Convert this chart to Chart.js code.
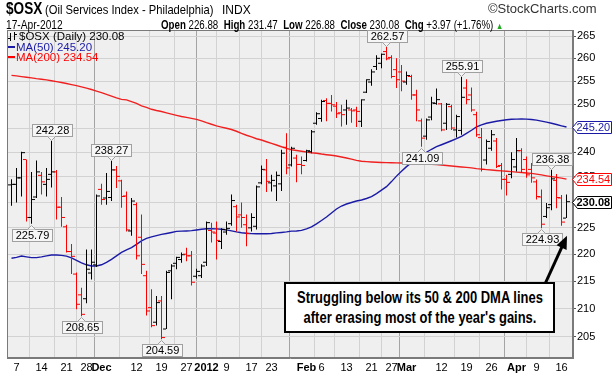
<!DOCTYPE html>
<html>
<head>
<meta charset="utf-8">
<title>$OSX daily</title>
<script src="https://cdn.jsdelivr.net/npm/chart.js@4.4.1/dist/chart.umd.min.js"></script>
<style>
  body { margin:0; background:#fff; }
  #box { position:relative; width:614px; height:378px; overflow:hidden; font-family:"Liberation Sans", Arial, sans-serif; }
  #c { position:absolute; left:0; top:0; }
  .t { position:absolute; white-space:nowrap; line-height:1; color:#000; transform-origin:0 0; }
  .lg { font-size:11.5px; line-height:11px; }
  .dash { display:inline-block; width:7px; height:2px; vertical-align:3px; margin-right:1px; }
  #note { position:absolute; left:284px; top:282px; width:267px; height:47px;
          border:2px solid #000; background:#fff; }
  #note div { position:absolute; left:50%; transform:translateX(-50%) scaleX(.81);
              font-weight:bold; font-size:16px; line-height:20px; white-space:nowrap; }
</style>
</head>
<body>
<div id="box">
  <canvas id="c" width="614" height="378"></canvas>

  <div class="t" style="left:6px;top:1px;font-weight:bold;font-size:16px;transform:scaleX(.85)">$OSX</div>
  <div class="t" style="left:45px;top:3px;font-size:13px;transform:scaleX(.86)">(Oil Services Index - Philadelphia)</div>
  <div class="t" style="left:222px;top:4px;font-size:12px">INDX</div>
  <div class="t" style="left:488px;top:2px;font-size:13px;color:#333">&copy;StockCharts.com</div>
  <div class="t" style="left:6px;top:19px;font-size:12px;transform:scaleX(.85)">17-Apr-2012</div>
  <div class="t" style="left:161px;top:19px;font-size:12px;transform:scaleX(.81)"><b>Open</b> 226.88 &nbsp;<b>High</b> 231.47 &nbsp;<b>Low</b> 226.88 &nbsp;<b>Close</b> 230.08 &nbsp;<b>Chg</b> +3.97 (+1.76%) <span style="color:#22aa22;font-size:9px">&#9650;</span></div>

  <div class="t lg" style="left:19px;top:31px">$OSX (Daily) 230.08</div>
  <div class="t lg" style="left:8px;top:41.5px;color:#1a1aa6"><span class="dash" style="background:#1a1aa6"></span>MA(50) 245.20</div>
  <div class="t lg" style="left:8px;top:52px;color:#ff0000"><span class="dash" style="background:#ff0000"></span>MA(200) 234.54</div>

  <div id="note"><div style="top:4px">Struggling below its 50 &amp; 200 DMA lines</div><div style="top:24px">after erasing most of the year's gains.</div></div>
</div>

<script>
// trading days shown, Nov 4 2011 .. Apr 17 2012
const dates = [
 '2011-11-04','2011-11-07','2011-11-08','2011-11-09','2011-11-10','2011-11-11','2011-11-14','2011-11-15','2011-11-16','2011-11-17',
 '2011-11-18','2011-11-21','2011-11-22','2011-11-23','2011-11-25','2011-11-28','2011-11-29','2011-11-30','2011-12-01','2011-12-02',
 '2011-12-05','2011-12-06','2011-12-07','2011-12-08','2011-12-09','2011-12-12','2011-12-13','2011-12-14','2011-12-15','2011-12-16',
 '2011-12-19','2011-12-20','2011-12-21','2011-12-22','2011-12-23','2011-12-27','2011-12-28','2011-12-29','2011-12-30','2012-01-03',
 '2012-01-04','2012-01-05','2012-01-06','2012-01-09','2012-01-10','2012-01-11','2012-01-12','2012-01-13','2012-01-17','2012-01-18',
 '2012-01-19','2012-01-20','2012-01-23','2012-01-24','2012-01-25','2012-01-26','2012-01-27','2012-01-30','2012-01-31','2012-02-01',
 '2012-02-02','2012-02-03','2012-02-06','2012-02-07','2012-02-08','2012-02-09','2012-02-10','2012-02-13','2012-02-14','2012-02-15',
 '2012-02-16','2012-02-17','2012-02-21','2012-02-22','2012-02-23','2012-02-24','2012-02-27','2012-02-28','2012-02-29','2012-03-01',
 '2012-03-02','2012-03-05','2012-03-06','2012-03-07','2012-03-08','2012-03-09','2012-03-12','2012-03-13','2012-03-14','2012-03-15',
 '2012-03-16','2012-03-19','2012-03-20','2012-03-21','2012-03-22','2012-03-23','2012-03-26','2012-03-27','2012-03-28','2012-03-29',
 '2012-03-30','2012-04-02','2012-04-03','2012-04-04','2012-04-05','2012-04-09','2012-04-10','2012-04-11','2012-04-12','2012-04-13',
 '2012-04-16','2012-04-17'];

const opens = [
 233.4,233.5,234.8,238.5,227.0,231.0,235.3,233.5,235.5,236.0, 229.0,225.2,220.5,216.3,212.5,211.8,216.5,218.0,232.5,230.8,
 230.9,236.4,234.2,231.2,224.4,229.5,223.2,216.0,210.2,207.6, 211.4,206.4,216.9,218.3,219.0,220.0,219.7,215.9,216.0,218.5,
 224.5,224.0,222.4,224.2,225.8,229.1,227.5,225.6,225.0,225.3, 233.8,236.4,233.8,233.2,233.6,241.0,237.4,238.8,237.5,238.3,
 240.1,246.0,247.0,250.8,250.2,249.6,248.2,248.8,248.8,248.8, 246.4,252.6,254.8,258.2,258.9,261.5,260.2,257.5,257.0,254.8,
 256.0,252.0,246.5,243.3,247.3,250.2,250.1,246.0,249.5,244.6, 244.5,253.5,252.0,247.8,243.0,238.4,240.8,242.3,237.3,234.5,
 235.5,237.0,240.3,238.5,236.5,234.0,231.0,227.2,229.5,234.3, 230.8,226.88];
const highs = [
 234.5,236.8,240.1,238.5,236.0,238.3,236.0,236.8,242.28,236.4, 231.0,225.6,221.9,216.6,213.8,220.9,220.9,231.5,233.6,235.8,
 238.27,237.2,234.4,232.1,230.8,229.9,227.6,216.9,213.5,212.3, 212.3,216.9,218.1,219.5,220.3,221.2,220.6,217.3,218.1,226.2,
 226.0,226.2,224.9,226.2,231.5,229.5,229.9,227.6,227.8,233.3, 237.3,238.6,235.4,236.1,240.5,243.9,241.1,239.5,239.1,240.5,
 244.6,248.3,251.0,251.3,252.0,250.5,249.9,251.0,249.2,249.5, 251.1,255.4,257.6,260.7,261.1,262.57,260.7,260.0,258.5,257.1,
 256.4,253.1,247.0,247.0,251.6,253.4,250.3,250.3,249.9,247.8, 255.91,255.4,253.6,248.4,245.0,242.6,244.6,242.9,237.8,235.4,
 240.0,242.9,240.8,239.1,237.8,234.45,232.5,229.8,236.38,235.6, 231.4,231.47];
const lows = [
 229.3,229.9,231.1,226.2,225.79,230.8,231.5,231.1,232.9,226.6, 225.2,220.3,216.3,209.9,208.65,211.0,215.3,217.6,229.5,229.5,
 230.2,232.8,228.9,224.3,223.5,219.0,216.3,208.8,206.7,207.0, 204.59,206.4,211.7,217.2,218.4,218.7,214.2,215.5,215.6,217.8,
 222.2,219.0,221.0,223.7,225.4,224.3,225.0,221.5,224.3,224.7, 233.5,232.0,232.1,230.2,232.2,235.5,237.1,233.9,235.5,238.1,
 239.8,245.7,246.3,246.4,248.5,247.1,245.3,245.7,246.1,245.2, 245.2,252.4,254.0,257.4,257.8,259.6,255.6,253.5,252.8,254.2,
 251.0,246.4,241.09,242.56,246.6,249.9,244.3,244.6,244.6,243.0, 243.6,250.0,248.4,243.2,236.1,237.5,240.3,236.8,232.5,231.3,
 234.7,236.1,235.8,234.8,233.8,230.5,224.93,226.9,228.4,228.8, 225.4,226.88];
const closes = [
 233.5,234.8,239.9,227.0,230.5,236.0,234.0,234.5,236.0,229.0, 227.0,220.5,219.6,210.8,209.0,217.2,218.5,231.2,230.5,232.1,
 236.4,235.1,231.1,224.6,230.2,219.7,218.1,209.6,207.0,211.1, 204.9,216.6,217.8,219.4,219.9,219.7,214.8,216.8,217.8,226.0,
 224.2,222.6,224.7,224.9,230.3,227.1,227.0,223.9,227.0,233.0, 236.5,234.1,234.3,235.3,239.8,236.8,240.8,237.5,237.3,240.3,
 244.2,248.0,250.6,250.2,249.9,248.0,247.8,249.2,248.6,248.5, 250.95,255.3,257.0,260.0,260.9,259.9,256.0,255.3,255.0,256.2,
 252.0,248.8,242.9,246.7,250.3,251.0,244.6,250.0,245.0,247.4, 251.5,251.0,248.8,243.6,236.5,242.2,243.6,237.1,234.5,233.9,
 238.5,240.3,236.5,235.4,234.8,231.1,225.7,228.9,234.6,230.9, 226.11,230.08];

const ma50 = [
 219.23,219.41,219.65,219.50,219.36,219.36,219.50,219.69,219.84,219.84, 219.78,219.65,219.32,218.85,218.39,218.02,217.80,217.80,218.02,218.48,
 219.04,219.69,220.35,220.82,221.23,221.85,222.51,222.98,223.27,223.51, 223.74,223.93,224.12,224.32,224.37,224.41,224.47,224.60,224.74,224.83,
 224.83,224.80,224.74,224.60,224.41,224.22,224.07,223.97,223.89,223.87, 223.87,223.87,223.93,224.03,224.12,224.22,224.37,224.41,224.51,224.80,
 225.17,225.75,226.42,227.10,227.87,228.65,229.23,229.62,229.91,230.21, 230.40,230.70,231.09,231.68,232.36,233.05,234.05,235.15,236.15,237.06,
 237.87,238.57,239.28,239.99,240.60,241.12,241.53,241.94,242.35,242.77, 243.28,243.90,244.53,245.25,245.67,245.99,246.20,246.41,246.57,246.72,
 246.83,246.87,246.89,246.87,246.78,246.66,246.45,246.24,245.99,245.73, 245.46,245.20];
const ma200 = [
 256.24,256.13,255.98,255.85,255.70,255.54,255.41,255.26,255.09,254.89, 254.70,254.48,254.24,254.01,253.75,253.47,253.17,252.84,252.50,252.14,
 251.77,251.38,251.06,250.95,250.59,250.21,249.68,249.34,248.94,248.68, 248.47,248.19,247.92,247.66,247.41,247.22,247.03,246.82,246.51,246.13,
 245.78,245.46,245.19,244.94,244.69,244.32,243.88,243.49,243.14,242.77, 242.50,242.15,241.80,241.47,241.12,240.79,240.50,240.34,240.19,240.05,
 239.89,239.79,239.62,239.48,239.36,239.22,239.02,238.81,238.57,238.33, 238.15,238.07,238.01,237.95,237.91,237.87,237.85,237.83,237.81,237.81,
 237.79,237.75,237.67,237.61,237.55,237.46,237.38,237.30,237.20,237.10, 237.00,236.90,236.80,236.65,236.55,236.45,236.37,236.29,236.21,236.13,
 236.05,235.95,235.87,235.79,235.69,235.55,235.39,235.21,235.05,234.89, 234.75,234.54];

// axis ticks
const xTickIdx    = [1,6,11,15,18,25,30,35,39,43,48,52,59,62,67,72,76,79,86,91,96,101,105,110];
const xTickLabels = ['7','14','21','28','Dec','12','19','27','2012','9','17','23','Feb','6','13','21','27','Mar','12','19','26','Apr','9','16'];
const monthTickIdx = [18,39,59,79,101];
const yTicks = [205,210,215,220,225,230,235,240,245,250,255,260,265];

// price call-outs: bar index and which end of the bar
const noteIdx  = [8,4,20,14,30,75,82,90,108,106];
const noteSide = ['high','low','high','low','low','high','low','high','high','low'];

const UP = '#000000', DOWN = '#ff0000', BLUE = '#1a1aa6', RED = '#ff0000';
const barColors = closes.map((c, i) => (i > 0 && c < closes[i - 1]) ? DOWN : UP);
const last = closes.length - 1;
const FONT = '"Liberation Sans", Arial, sans-serif';

function bubble(ctx, px, py, text, above) {
  const w = Math.round(ctx.measureText(text).width) + 6, h = 12;
  const cx = Math.floor(px) + 0.5;
  const bx = Math.round(px - w / 2) + 0.5;
  const by = above ? Math.round(py) - 5 - h + 0.5 : Math.round(py) + 5 + 0.5;
  ctx.fillStyle = '#f6f6f6'; ctx.strokeStyle = '#a0a0a0'; ctx.lineWidth = 1;
  ctx.fillRect(bx, by, w, h); ctx.strokeRect(bx, by, w, h);
  ctx.beginPath();
  if (above) { ctx.moveTo(cx - 4, by + h); ctx.lineTo(cx, by + h + 4); ctx.lineTo(cx + 4, by + h); }
  else { ctx.moveTo(cx - 4, by); ctx.lineTo(cx, by - 4); ctx.lineTo(cx + 4, by); }
  ctx.fill(); ctx.stroke();
  ctx.fillStyle = '#000'; ctx.textAlign = 'center'; ctx.textBaseline = 'middle';
  ctx.fillText(text, bx + w / 2, by + h / 2 + 0.5);
}

function edgeTag(ctx, ax, right, py, text, color, bold) {
  const yy = Math.round(py) + 0.5, x0 = ax - 0.5;
  ctx.beginPath();
  ctx.moveTo(x0, yy); ctx.lineTo(x0 + 5, yy - 6); ctx.lineTo(right, yy - 6);
  ctx.lineTo(right, yy + 6); ctx.lineTo(x0 + 5, yy + 6); ctx.closePath();
  ctx.fillStyle = '#fff'; ctx.fill();
  ctx.strokeStyle = color; ctx.lineWidth = 1; ctx.stroke();
  ctx.fillStyle = color; ctx.textAlign = 'left'; ctx.textBaseline = 'middle';
  ctx.font = (bold ? 'bold ' : '') + '11px ' + FONT;
  ctx.fillText(text, x0 + 4, yy + 0.5);
}

const decor = {
  id: 'decor',
  beforeDraw(chart) {
    const { ctx, chartArea: a } = chart;
    ctx.save();
    ctx.fillStyle = '#efefef';
    ctx.fillRect(a.left, a.top, a.right - a.left, a.bottom - a.top);
    ctx.restore();
  },
  afterDraw(chart) {
    const { ctx, chartArea: a, scales: { x, y } } = chart;
    ctx.save();
    // frame round the plot
    ctx.strokeStyle = '#7a7a7a'; ctx.lineWidth = 1;
    ctx.strokeRect(a.left + 0.5, a.top + 0.5, a.right - a.left - 1, a.bottom - a.top - 1);

    // little bar icon in front of the legend
    ctx.strokeStyle = '#000';
    ctx.beginPath();
    ctx.moveTo(10.5, 33); ctx.lineTo(10.5, 41); ctx.moveTo(8, 38.5); ctx.lineTo(10.5, 38.5);
    ctx.moveTo(14.5, 32); ctx.lineTo(14.5, 40); ctx.moveTo(14.5, 34.5); ctx.lineTo(17, 34.5);
    ctx.stroke();

    // high / low call-outs
    ctx.font = '11px ' + FONT;
    noteIdx.forEach((i, k) => {
      const hi = noteSide[k] === 'high';
      const v = hi ? highs[i] : lows[i];
      bubble(ctx, x.getPixelForValue(i), y.getPixelForValue(v), v.toFixed(2), hi);
    });

    // last values on the right edge
    const r = chart.width - 2.5;
    edgeTag(ctx, a.right, r, y.getPixelForValue(ma50[last]), ma50[last].toFixed(2), BLUE, false);
    edgeTag(ctx, a.right, r, y.getPixelForValue(ma200[last]), ma200[last].toFixed(2), RED, false);
    edgeTag(ctx, a.right, r, y.getPixelForValue(closes[last]), closes[last].toFixed(2), '#000', true);

    // arrow from the note box to the last bars
    const tx = x.getPixelForValue(last + 0.1), ty = y.getPixelForValue(lows[last - 1]) + 10;
    const sx = 545, sy = 284;
    const ang = Math.atan2(ty - sy, tx - sx);
    ctx.strokeStyle = '#000'; ctx.fillStyle = '#000'; ctx.lineWidth = 3;
    ctx.beginPath(); ctx.moveTo(sx, sy);
    ctx.lineTo(tx - 10 * Math.cos(ang), ty - 10 * Math.sin(ang)); ctx.stroke();
    ctx.beginPath(); ctx.moveTo(tx, ty);
    ctx.lineTo(tx - 13 * Math.cos(ang) + 5.5 * Math.sin(ang), ty - 13 * Math.sin(ang) - 5.5 * Math.cos(ang));
    ctx.lineTo(tx - 13 * Math.cos(ang) - 5.5 * Math.sin(ang), ty - 13 * Math.sin(ang) + 5.5 * Math.cos(ang));
    ctx.closePath(); ctx.fill();
    ctx.restore();
  }
};

new Chart(document.getElementById('c'), {
  type: 'bar',
  data: {
    datasets: [
      { // high-low range
        type: 'bar',
        data: dates.map((d, i) => ({ x: i, y: [lows[i], highs[i]] })),
        backgroundColor: barColors, borderWidth: 0, barThickness: 1, inflateAmount: 0, order: 1
      },
      { // open ticks, left of the bar
        type: 'scatter',
        data: opens.map((o, i) => ({ x: i - 0.4, y: o })),
        pointStyle: 'line', pointRadius: 1.5, pointBorderWidth: 1,
        pointBorderColor: barColors, pointBackgroundColor: barColors, order: 1
      },
      { // close ticks, right of the bar
        type: 'scatter',
        data: closes.map((c, i) => ({ x: i + 0.4, y: c })),
        pointStyle: 'line', pointRadius: 1.5, pointBorderWidth: 1,
        pointBorderColor: barColors, pointBackgroundColor: barColors, order: 1
      },
      {
        type: 'line',
        data: ma50.map((v, i) => ({ x: i, y: v })),
        borderColor: BLUE, borderWidth: 1.4, pointRadius: 0, tension: 0, order: 5
      },
      {
        type: 'line',
        data: ma200.map((v, i) => ({ x: i, y: v })),
        borderColor: '#f02020', borderWidth: 1.4, pointRadius: 0, tension: 0, order: 5
      }
    ]
  },
  options: {
    responsive: false,
    animation: false,
    devicePixelRatio: 1,
    events: [],
    layout: { padding: { left: 7, top: 30, right: 0, bottom: 0 } },
    plugins: { legend: { display: false }, tooltip: { enabled: false } },
    scales: {
      x: {
        type: 'linear', min: -0.9, max: 112.3, offset: false,
        afterFit(s) { s.height = 20; },
        afterBuildTicks(s) { s.ticks = xTickIdx.map(v => ({ value: v })); },
        ticks: {
          autoSkip: false, maxRotation: 0, padding: 3, color: '#000',
          callback: v => xTickLabels[xTickIdx.indexOf(v)],
          font: c => monthTickIdx.includes(c.tick && c.tick.value)
            ? { family: FONT, size: 11, weight: 'bold' }
            : { family: FONT, size: 11 }
        },
        grid: {
          drawTicks: false,
          color: c => monthTickIdx.includes(c.tick && c.tick.value) ? '#a4a4a4' : '#d2d2d2'
        },
        border: { display: true, color: '#7a7a7a' }
      },
      y: {
        type: 'logarithmic', position: 'right', min: 201.36, max: 266.36,
        afterFit(s) { s.width = 41; },
        afterBuildTicks(s) { s.ticks = yTicks.map(v => ({ value: v })); },
        ticks: { padding: 1, color: '#000', font: { family: FONT, size: 11 }, callback: v => String(v) },
        grid: { color: '#d2d2d2', tickLength: 3, tickColor: '#555' },
        border: { display: true, color: '#7a7a7a' }
      }
    }
  },
  plugins: [decor]
});
</script>
</body>
</html>
